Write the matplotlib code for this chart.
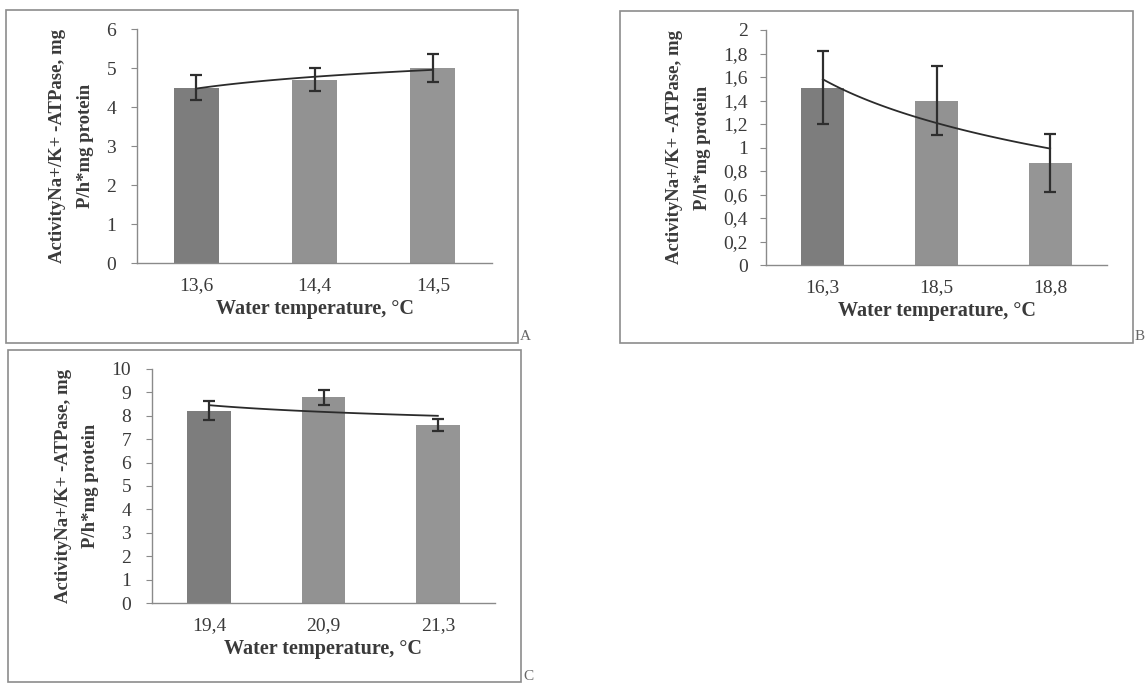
import numpy as np
import matplotlib
matplotlib.use("Agg")
import matplotlib.pyplot as plt
from matplotlib.patches import Rectangle

plt.rcParams["font.family"] = ["Liberation Serif", "DejaVu Serif"]

# ── data ────────────────────────────────────────────────────────────────────
temps_a = ["13,6", "14,4", "14,5"]
vals_a = [4.5, 4.7, 5.0]
err_a = [0.33, 0.30, 0.35]

temps_b = ["16,3", "18,5", "18,8"]
vals_b = [1.51, 1.40, 0.87]
err_b = [0.31, 0.29, 0.245]

temps_c = ["19,4", "20,9", "21,3"]
vals_c = [8.22, 8.8, 7.6]
err_c = [0.42, 0.32, 0.27]

yticks_a = [0, 1, 2, 3, 4, 5, 6]
yticks_b = [0, 0.2, 0.4, 0.6, 0.8, 1.0, 1.2, 1.4, 1.6, 1.8, 2.0]
yticks_c = [0, 1, 2, 3, 4, 5, 6, 7, 8, 9, 10]

YLABEL = "ActivityNa+/K+ -ATPase, mg\nP/h*mg protein"
XLABEL = "Water temperature, °C"

BAR_GREYS = ["#7d7d7d", "#929292", "#959595"]
EDGE = "#8a8a8a"
TXT = "#3a3a3a"


def fmt(v):
    return f"{v:g}".replace(".", ",")


def log_trend(vals):
    # logarithmic trend line as in the spreadsheet chart
    x = np.arange(1, len(vals) + 1)
    b, a = np.polyfit(np.log(x), vals, 1)
    xs = np.linspace(1, len(vals), 60)
    return xs - 1, a + b * np.log(xs)


def panel(fig, rect, temps, vals, errs, yticks, ypad):
    ax = fig.add_axes(rect)
    x = np.arange(len(temps))
    ax.bar(x, vals, width=0.38, color=BAR_GREYS, edgecolor="none", zorder=2)
    ax.errorbar(x, vals, yerr=errs, fmt="none", ecolor="#2e2e2e",
                elinewidth=1.6, capsize=4.5, capthick=1.6, zorder=4)
    tx, ty = log_trend(vals)
    ax.plot(tx, ty, color="#2b2b2b", lw=1.3, zorder=3)

    ax.set_xlim(-0.5, len(temps) - 0.5)
    ax.set_ylim(yticks[0], yticks[-1])
    ax.set_yticks(yticks)
    ax.set_yticklabels([fmt(t) for t in yticks], fontsize=14, color=TXT)
    ax.set_xticks(x)
    ax.set_xticklabels(temps, fontsize=14, color=TXT)
    ax.tick_params(axis="x", length=0, pad=10)
    ax.tick_params(axis="y", length=4, color=EDGE, pad=ypad)
    for s in ("top", "right"):
        ax.spines[s].set_visible(False)
    for s in ("left", "bottom"):
        ax.spines[s].set_color(EDGE)
        ax.spines[s].set_linewidth(1.0)
    ax.set_xlabel(XLABEL, fontsize=14.5, fontweight="bold", color=TXT, labelpad=4)
    ax.set_ylabel(YLABEL, fontsize=13.5, fontweight="bold", color=TXT,
                  labelpad=9, linespacing=1.8)
    return ax


W, H = 1146, 684
fig = plt.figure(figsize=(W / 100, H / 100), dpi=100)


def fr(x0, y0, x1, y1):
    # pixel box (top-left origin) to figure fraction rect
    return [x0 / W, 1 - y1 / H, (x1 - x0) / W, (y1 - y0) / H]


panel(fig, fr(137, 29, 492, 263), temps_a, vals_a, err_a, yticks_a, 11)
panel(fig, fr(766, 30, 1107, 265), temps_b, vals_b, err_b, yticks_b, 9)
panel(fig, fr(152, 369, 495, 603), temps_c, vals_c, err_c, yticks_c, 11)

# frames around each chart and panel letters
for (x0, y0, x1, y1), letter in [((6, 10, 518, 343), "A"),
                                 ((620, 11, 1133, 343), "B"),
                                 ((8, 350, 521, 682), "C")]:
    fig.add_artist(Rectangle((x0 / W, 1 - y1 / H), (x1 - x0) / W, (y1 - y0) / H,
                             transform=fig.transFigure, fill=False,
                             edgecolor="#8c8c8c", lw=1.2))
    fig.text((x1 + 2) / W, 1 - (y1 - 6) / H, letter, fontsize=11,
             color="#666666", ha="left", va="center")

fig.savefig("out.png", dpi=100)
